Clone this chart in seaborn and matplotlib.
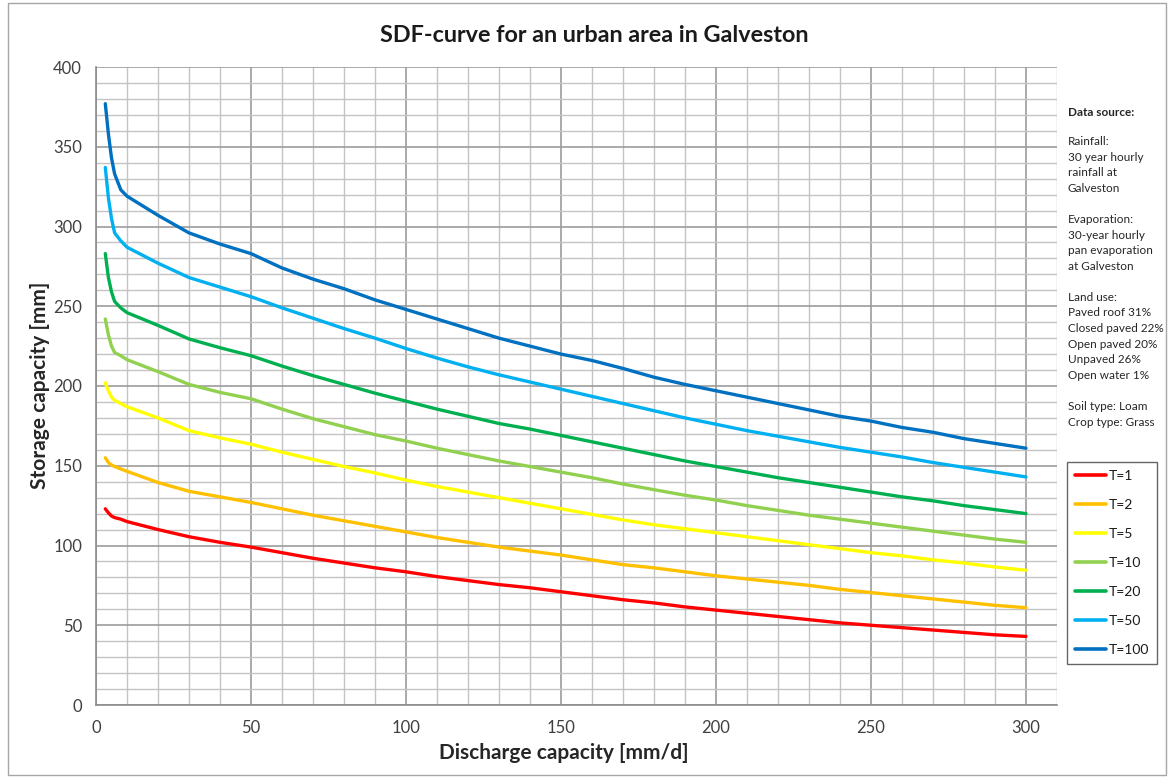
import numpy as np
import pandas as pd
import matplotlib
matplotlib.use("Agg")
import matplotlib.pyplot as plt
from matplotlib.patches import Rectangle
import seaborn as sns

# Discharge capacity [mm/d]
discharge = [3, 4, 5, 6, 8, 10, 20, 30, 40, 50, 60, 70, 80, 90, 100, 110, 120,
             130, 140, 150, 160, 170, 180, 190, 200, 210, 220, 230, 240, 250,
             260, 270, 280, 290, 300]

# Storage capacity [mm] per return period
storage_t1 = [123, 120.5, 118.5, 117.5, 116.5, 115, 110, 105.5, 102, 99, 95.5, 92,
              89, 86, 83.5, 80.5, 78, 75.5, 73.5, 71, 68.5, 66, 64, 61.5, 59.5,
              57.5, 55.5, 53.5, 51.5, 50, 48.5, 47, 45.5, 44, 43]
storage_t2 = [155, 152, 150.5, 149.5, 148, 146.5, 139.5, 134, 130.5, 127, 123, 119,
              115.5, 112, 108.5, 105, 102, 99, 96.5, 94, 91, 88, 86, 83.5, 81, 79,
              77, 75, 72.5, 70.5, 68.5, 66.5, 64.5, 62.5, 61]
storage_t5 = [202, 197, 193, 191, 189, 187, 180, 172, 167.5, 163.5, 158.5, 154,
              149.5, 145.5, 141, 137, 133.5, 130, 126.5, 123, 119.5, 116, 113,
              110.5, 108, 105.5, 103, 100.5, 98, 95.5, 93.5, 91, 89, 86.5, 84.5]
storage_t10 = [242, 232, 225, 221, 219, 216.5, 209, 201, 196, 192, 185.5, 179.5,
               174.5, 169.5, 165.5, 161, 157, 153, 149.5, 146, 142.5, 138.5, 135,
               131.5, 128.5, 125, 122, 119, 116.5, 114, 111.5, 109, 106.5, 104, 102]
storage_t20 = [283, 268, 259, 253, 249, 246, 238, 229.5, 224, 219, 212.5, 206.5,
               201, 195.5, 190.5, 185.5, 181, 176.5, 173, 169, 165, 161, 157, 153,
               149.5, 146, 142.5, 139.5, 136.5, 133.5, 130.5, 128, 125, 122.5, 120]
storage_t50 = [337, 318, 305, 296, 291, 287, 277, 268, 262, 256, 249, 242.5, 236,
               230, 223.5, 217.5, 212, 207, 202.5, 198, 193.5, 189, 184.5, 180,
               176, 172, 168.5, 165, 161.5, 158.5, 155.5, 152, 149, 146, 143]
storage_t100 = [377, 358, 343, 333, 323, 319, 307, 296, 289, 283, 274, 267, 261,
                254, 248, 242, 236, 230, 225, 220, 216, 211, 205.5, 201, 197, 193,
                189, 185, 181, 178, 174, 171, 167, 164, 161]

series_labels = ["T=1", "T=2", "T=5", "T=10", "T=20", "T=50", "T=100"]
series_values = [storage_t1, storage_t2, storage_t5, storage_t10,
                 storage_t20, storage_t50, storage_t100]
series_colors = ["#FF0000", "#FFC000", "#FFFF00", "#92D050",
                 "#00B050", "#00B0F0", "#0070C0"]

x_ticks = [0, 50, 100, 150, 200, 250, 300]
y_ticks = [0, 50, 100, 150, 200, 250, 300, 350, 400]

info_lines = ["Rainfall:", "30 year hourly", "rainfall at", "Galveston", "",
              "Evaporation:", "30-year hourly", "pan evaporation", "at Galveston", "",
              "Land use:", "Paved roof 31%", "Closed paved 22%", "Open paved 20%",
              "Unpaved 26%", "Open water 1%", "",
              "Soil type: Loam", "Crop type: Grass"]

frames = []
for lab, vals in zip(series_labels, series_values):
    frames.append(pd.DataFrame({"discharge": discharge, "storage": vals, "T": lab}))
df = pd.concat(frames, ignore_index=True)

sns.set_style("white")
plt.rcParams["font.family"] = ["Lato", "DejaVu Sans"]

W, H = 1174, 778
fig = plt.figure(figsize=(W / 100, H / 100), dpi=100)
ax = fig.add_axes([96 / W, 1 - 705 / H, (1057 - 96) / W, (705 - 67) / H])

sns.lineplot(data=df, x="discharge", y="storage", hue="T",
             hue_order=series_labels, palette=series_colors,
             linewidth=2.4, ax=ax, sort=False, estimator=None, zorder=3)

ax.set_xlim(0, 310)
ax.set_ylim(0, 400)
ax.set_xticks(x_ticks)
ax.set_yticks(y_ticks)
ax.set_xticks(np.arange(0, 311, 10), minor=True)
ax.set_yticks(np.arange(0, 401, 10), minor=True)

ax.grid(which="minor", color="#C4C4C4", linewidth=1.0, zorder=0)
ax.grid(which="major", color="#9C9C9C", linewidth=1.2, zorder=1)
ax.set_axisbelow(True)

for side in ["top", "right"]:
    ax.spines[side].set_visible(False)
for side in ["left", "bottom"]:
    ax.spines[side].set_color("#8C8C8C")
    ax.spines[side].set_linewidth(1.2)

ax.tick_params(which="both", direction="out", length=4, width=1,
               color="#8C8C8C", labelsize=12, labelcolor="#404040")
ax.tick_params(axis="x", which="major", pad=7)
ax.tick_params(axis="y", which="major", pad=6)

ax.set_xlabel("Discharge capacity [mm/d]", fontsize=15, fontweight="bold",
              color="#262626")
ax.set_ylabel("Storage capacity [mm]", fontsize=15, fontweight="bold",
              color="#262626")
ax.xaxis.set_label_coords((564 - 96) / 961, -(753 - 705) / 638)
ax.yaxis.set_label_coords(-(96 - 40) / 961, (705 - 385) / 638)
ax.xaxis.label.set_verticalalignment("center")
ax.yaxis.label.set_verticalalignment("center")

fig.text(594 / W, 1 - 35 / H, "SDF-curve for an urban area in Galveston",
         ha="center", va="center", fontsize=16.8, fontweight="bold", color="#1A1A1A")

# Notes on the data behind the curves
fig.text(1068 / W, 1 - 113 / H, "Data source:", ha="left", va="center",
         fontsize=8.5, fontweight="bold", color="#262626")
fig.text(1068 / W, 1 - 136 / H, "\n".join(info_lines), ha="left", va="top",
         fontsize=8.5, color="#262626", linespacing=1.51)

# Legend
ax.get_legend().remove()
handles, labels = ax.get_legend_handles_labels()
leg = fig.legend(handles, labels, loc="upper left",
                 bbox_to_anchor=(1067 / W, 1 - 462 / H),
                 fontsize=10, frameon=True, fancybox=False, edgecolor="#404040",
                 handlelength=2.2, handletextpad=0.2, labelspacing=1.22,
                 borderpad=0.6, borderaxespad=0)
leg.get_frame().set_linewidth(1.0)
for line in leg.get_lines():
    line.set_linewidth(2.6)
for t in leg.get_texts():
    t.set_color("#1A1A1A")

# Outer chart border
fig.add_artist(Rectangle((8 / W, 3 / H), (1166 - 8) / W, (775 - 3) / H,
                         transform=fig.transFigure, fill=False,
                         edgecolor="#A6A6A6", linewidth=1.0))

fig.savefig("out.png", dpi=100)
